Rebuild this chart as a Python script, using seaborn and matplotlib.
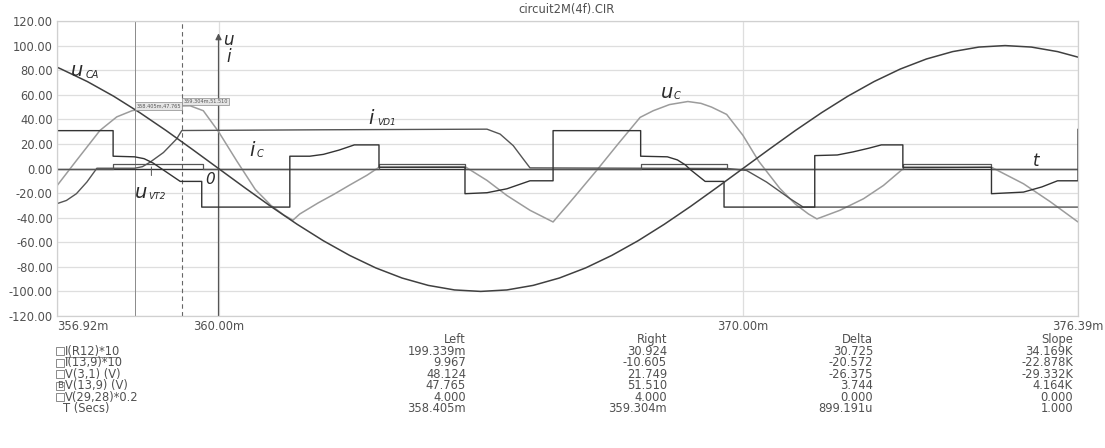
import matplotlib
matplotlib.use("Agg")
import matplotlib.pyplot as plt
import matplotlib.patches as mpatches
from matplotlib.lines import Line2D
import seaborn as sns

# ---- data (time in ms) ----
# u_CA = V(3,1)
t_uca = [356.92, 357.0, 357.5, 358.0, 358.5, 359.0, 359.5, 360.0, 360.5, 361.0, 361.5,
         362.0, 362.5, 363.0, 363.5, 364.0, 364.5, 365.0, 365.5, 366.0, 366.5, 367.0,
         367.5, 368.0, 368.5, 369.0, 369.5, 370.0, 370.5, 371.0, 371.5, 372.0, 372.5,
         373.0, 373.5, 374.0, 374.5, 375.0, 375.5, 376.0, 376.39]
u_ca = [82.4, 80.9, 70.7, 58.8, 45.4, 30.9, 15.6, 0.0, -15.6, -30.9, -45.4,
        -58.8, -70.7, -80.9, -89.1, -95.1, -98.8, -100.0, -98.8, -95.1, -89.1, -80.9,
        -70.7, -58.8, -45.4, -30.9, -15.6, 0.0, 15.6, 30.9, 45.4, 58.8, 70.7,
        80.9, 89.1, 95.1, 98.8, 100.0, 98.8, 95.1, 90.6]

# u_C = V(13,9)
t_uc = [356.92, 357.30, 357.74, 358.06, 358.35, 358.69, 359.10, 359.46, 359.71, 360.00,
        360.35, 360.70, 361.00, 361.25, 361.42, 361.55, 361.90, 362.20, 362.50, 362.83,
        363.06, 364.70, 365.12, 365.50, 365.94, 366.38, 366.80, 367.21, 367.62, 368.04,
        368.29, 368.60, 368.95, 369.20, 369.40, 369.69, 370.00, 370.30, 370.70, 371.00,
        371.25, 371.41, 371.85, 372.30, 372.68, 373.06, 374.74, 375.35, 375.86, 376.39]
u_c = [-14, 7, 31, 42, 47, 49.7, 50.8, 51, 47, 30,
       6, -17, -30, -38, -42, -37, -28, -21, -13.5, -5.5,
       1, 1.5, -9.7, -22, -34, -43.5, -22.5, -1.6, 20, 41.6,
       47, 52, 54.5, 53, 50, 44, 27, 6, -16, -29,
       -37, -41, -34, -24.6, -13.8, 0, 1, -12.4, -27, -43.5]

# i_C = I(13,9)*10
t_ic = [356.92, 357.99, 357.99, 358.40, 358.58, 358.75, 359.27, 359.68, 359.68, 361.36,
        361.36, 361.74, 362.00, 362.30, 362.59, 363.06, 363.06, 364.70, 364.70, 365.12,
        365.50, 365.94, 366.38, 366.38, 368.05, 368.05, 368.56, 368.75, 368.90, 369.00,
        369.28, 369.64, 369.64, 371.37, 371.37, 371.80, 372.10, 372.40, 372.64, 373.05,
        373.05, 374.74, 374.74, 375.35, 375.70, 376.00, 376.39, 376.39]
i_c = [30.8, 30.8, 10, 9.5, 8, 4.5, -10.5, -10.5, -31.4, -31.4,
       10, 10, 11.5, 15, 19.2, 19.2, 1, 1, -20.5, -19.7,
       -16.5, -10, -10, 30.8, 30.8, 10, 9.5, 7, 3, -1,
       -10.5, -10.5, -31.4, -31.4, 10.5, 11, 13.5, 16.5, 19.2, 19.2,
       1, 1, -20.5, -19.2, -15, -10, -10, 32]

# i_VD1 = I(R12)*10
t_ivd = [356.92, 357.10, 357.29, 357.49, 357.68, 358.40, 358.55, 358.69, 358.95, 359.20,
         359.30, 362.00, 365.12, 365.37, 365.62, 365.81, 365.94, 369.70, 370.07, 370.45,
         370.90, 371.15, 376.39]
i_vd1 = [-28.6, -26, -20.5, -11, 0.2, 0.2, 1.5, 5, 13, 24,
         30.9, 31.5, 32, 28, 18.6, 7.8, 0.5, 0, -1.6, -11,
         -24.6, -31.4, -31.4]

# u_VT2 = V(29,28)*0.2
t_uvt = [356.92, 357.99, 357.99, 359.70, 359.70, 363.06, 363.06, 364.70, 364.70,
         368.05, 368.05, 369.70, 369.70, 373.05, 373.05, 374.74, 374.74, 376.39]
u_vt2 = [0, 0, 4, 4, 0, 0, 4, 4, 0, 0, 4, 4, 0, 0, 4, 4, 0, 0]

x_ticks = [356.92, 360.0, 370.0, 376.39]
x_labels = ["356.92m", "360.00m", "370.00m", "376.39m"]
y_ticks = list(range(-120, 121, 20))

# cursor readout table
row_names = ["I(R12)*10", "I(13,9)*10", "V(3,1) (V)", "V(13,9) (V)", "V(29,28)*0.2", "T (Secs)"]
col_left = ["199.339m", "9.967", "48.124", "47.765", "4.000", "358.405m"]
col_right = ["30.924", "-10.605", "21.749", "51.510", "4.000", "359.304m"]
col_delta = ["30.725", "-20.572", "-26.375", "3.744", "0.000", "899.191u"]
col_slope = ["34.169K", "-22.878K", "-29.332K", "4.164K", "0.000", "1.000"]
cursor_left = 358.405
cursor_right = 359.304
uc_left = 47.765
uc_right = 51.510

W, H = 1105, 448
DARK = "#333333"
MID = "#555555"
LIGHT = "#9c9c9c"
TXT = "#505050"
FS = 8.3

sns.set_style("white")
plt.rcParams["font.family"] = ["DejaVu Sans"]

fig = plt.figure(figsize=(W / 100, H / 100), dpi=100)
ax = fig.add_axes([57 / W, 1 - 316 / H, (1078 - 57) / W, (316 - 21) / H])


def ftxt(x, y, s, **kw):
    kw.setdefault("fontsize", FS)
    kw.setdefault("color", TXT)
    fig.text(x / W, 1 - y / H, s, **kw)


ax.set_xlim(356.92, 376.39)
ax.set_ylim(-120, 120)
ax.set_yticks(y_ticks)
ax.set_yticklabels([f"{v:.2f}" for v in y_ticks])
ax.set_xticks(x_ticks)
ax.set_xticklabels(x_labels)
ax.get_xticklabels()[0].set_ha("left")
ax.tick_params(length=0, labelsize=FS, colors=TXT, pad=3)
ax.grid(True, color="#dedede", lw=0.9)
for s in ax.spines.values():
    s.set_color("#d0d0d0")
    s.set_linewidth(0.9)

# t axis and u/i axis with arrow
ax.axhline(0, color=DARK, lw=1.0, zorder=2)
ax.annotate("", xy=(360.0, 110), xytext=(360.0, -120),
            arrowprops=dict(arrowstyle="-|>", color=MID, lw=0.9, mutation_scale=9,
                            shrinkA=0, shrinkB=0), zorder=2)

# cursors
ax.axvline(cursor_left, color="#8a8a8a", lw=0.7, zorder=1)
ax.axvline(cursor_right, color="#666666", lw=0.8, ls=(0, (4, 3)), zorder=1)

kw = dict(ax=ax, estimator=None, sort=False, legend=False)
sns.lineplot(x=t_uc, y=u_c, color=LIGHT, lw=1.1, **kw)
sns.lineplot(x=t_uvt, y=u_vt2, color=MID, lw=0.9, **kw)
sns.lineplot(x=t_ivd, y=i_vd1, color=MID, lw=1.0, **kw)
sns.lineplot(x=t_ic, y=i_c, color=DARK, lw=1.0, **kw)
sns.lineplot(x=t_uca, y=u_ca, color="#404040", lw=1.1, **kw)
ax.set_xlabel("")
ax.set_ylabel("")

# cursor value boxes
for tc, vc in [(cursor_left, uc_left), (cursor_right, uc_right)]:
    ax.annotate(f"{tc:.3f}m,{vc:.3f}", xy=(tc, vc), xytext=(1, 1), textcoords="offset points",
                fontsize=3.6, color="#555555", ha="left", va="bottom",
                bbox=dict(boxstyle="square,pad=0.25", fc="#e6e6e6", ec="#8a8a8a", lw=0.5))

# curve labels
lab = dict(style="italic", color="#2a2a2a", va="center")
ftxt(77, 70, "u", fontsize=14, ha="center", **lab)
ftxt(86, 75, "CA", fontsize=7, ha="left", **lab)
ftxt(228, 40, "u", fontsize=12, ha="center", **lab)
ftxt(229, 57, "i", fontsize=12, ha="center", **lab)
ftxt(371, 119, "i", fontsize=14, ha="center", **lab)
ftxt(377, 122, "VD1", fontsize=6.5, ha="left", **lab)
ftxt(252, 150, "i", fontsize=14, ha="center", **lab)
ftxt(257, 154, "C", fontsize=7, ha="left", **lab)
ftxt(667, 92, "u", fontsize=14, ha="center", **lab)
ftxt(674, 96, "C", fontsize=7, ha="left", **lab)
ftxt(141, 192, "u", fontsize=14, ha="center", **lab)
ftxt(148, 196, "VT2", fontsize=6.5, ha="left", **lab)
ftxt(210, 179, "0", fontsize=11, ha="center", **lab)
ftxt(1036, 161, "t", fontsize=12, ha="center", **lab)
ax.annotate("", xy=(358.72, 3.5), xytext=(358.72, -8),
            arrowprops=dict(arrowstyle="-", color=MID, lw=0.7))

# title
ftxt(567, 10, "circuit2M(4f).CIR", ha="center", va="center")

# readout table
ys = [339.5, 351, 362.5, 374, 385.5, 397, 408.5]
for xr, head, col in [(466, "Left", col_left), (667, "Right", col_right),
                      (873, "Delta", col_delta), (1073, "Slope", col_slope)]:
    ftxt(xr, ys[0], head, ha="right", va="center")
    for y, s in zip(ys[1:], col):
        ftxt(xr, y, s, ha="right", va="center")

for i, (y, name) in enumerate(zip(ys[1:], row_names)):
    if name.startswith("T"):
        ftxt(63, y, name, ha="left", va="center")
        continue
    fig.add_artist(mpatches.Rectangle((56 / W, 1 - (y + 4) / H), 8 / W, 8 / H,
                                      transform=fig.transFigure, fill=False,
                                      ec="#777777", lw=0.6))
    if i == 3:
        ftxt(60, y, "B", ha="center", va="center", fontsize=6.5)
    ftxt(65, y, name, ha="left", va="center")
fig.add_artist(Line2D([65 / W, 118 / W], [1 - 357 / H] * 2, transform=fig.transFigure,
                      color="#777777", lw=0.6))

fig.savefig("out.png", dpi=100)
